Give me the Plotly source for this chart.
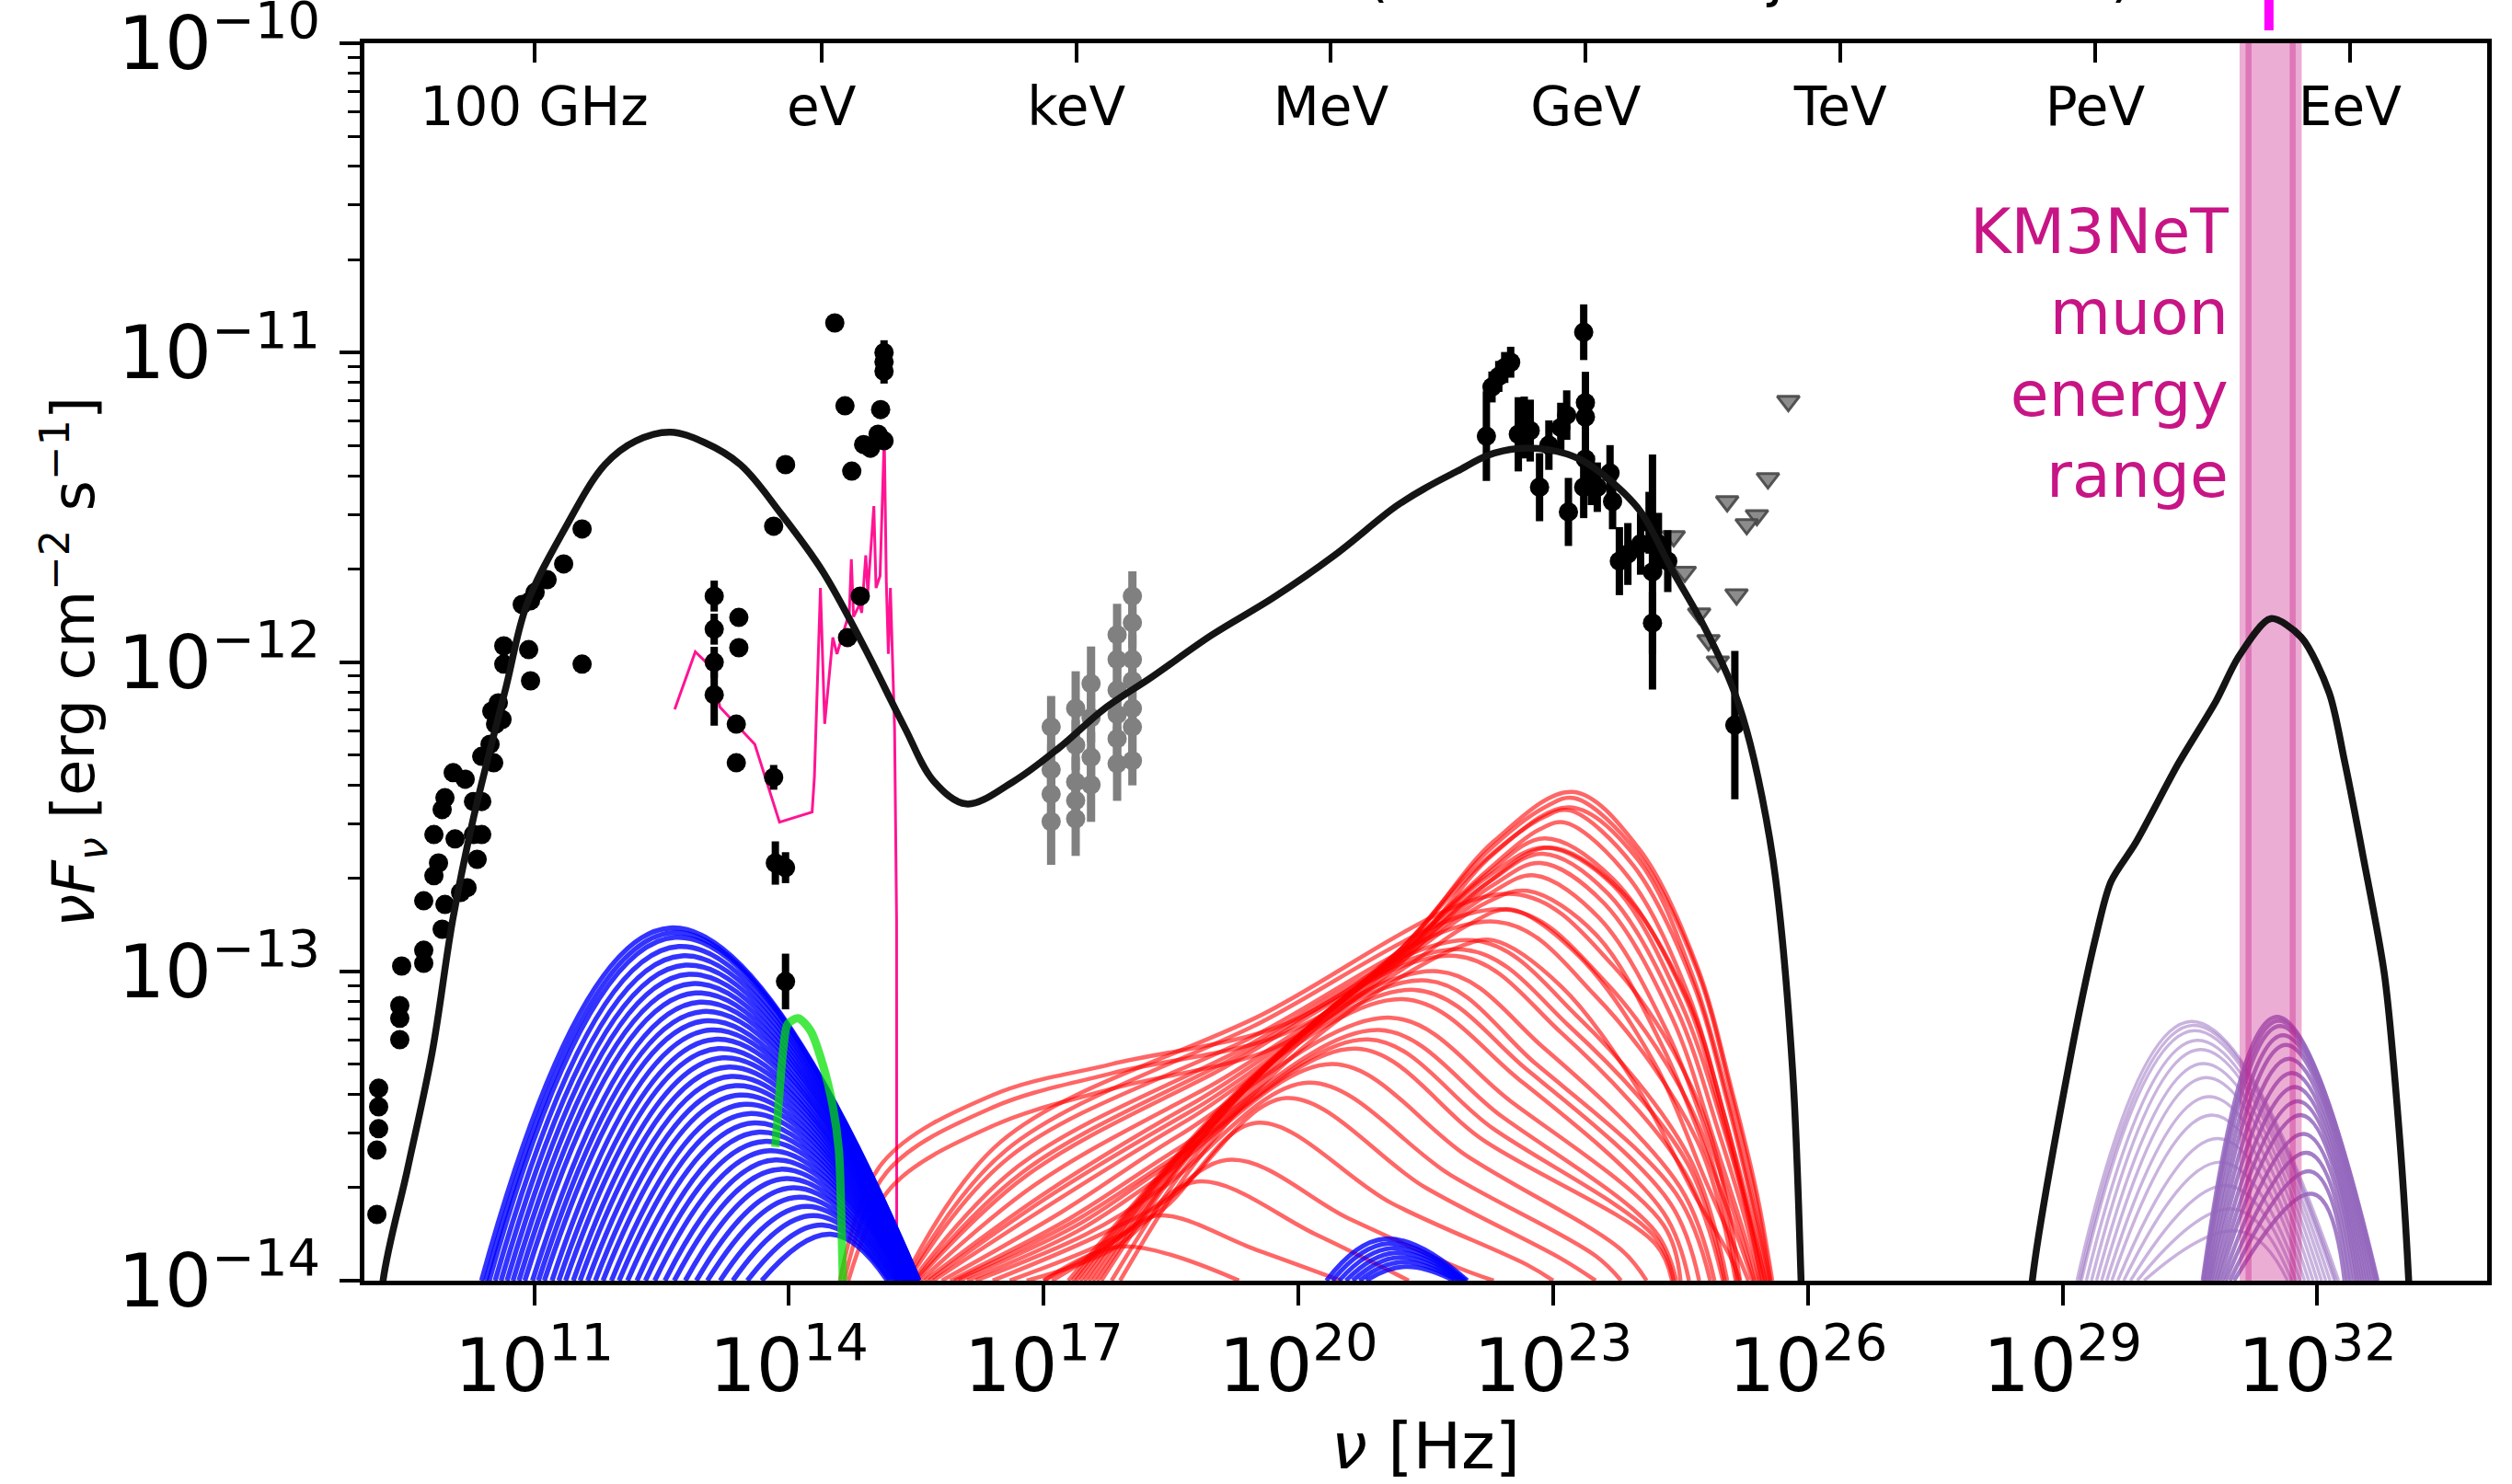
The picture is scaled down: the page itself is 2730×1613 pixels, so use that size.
import numpy as np
import plotly.graph_objects as go

# ------------------------------------------------------------------
# Values (log10 of nu [Hz] and nuFnu [erg/cm2/s])
# ------------------------------------------------------------------
energy_hz = [1e11, 2.418e14, 2.418e17, 2.418e20, 2.418e23, 2.418e26, 2.418e29, 2.418e32]
energy_labels = ["100 GHz", "eV", "keV", "MeV", "GeV", "TeV", "PeV", "EeV"]

# total model, first component (synchrotron + IC)
model1_logx = [9.15, 9.22, 9.51, 9.80, 10.04, 10.285, 10.67, 10.913, 11.347, 11.832, 12.2, 12.604, 13.0,
               13.428, 13.913, 14.397, 14.88, 15.365, 15.704, 16.09, 16.636, 17.18, 17.72, 18.262, 18.985,
               19.70, 20.43, 21.153, 21.514, 21.872, 22.23, 22.59, 22.95, 23.31, 23.67, 24.03, 24.39,
               24.745, 25.10, 25.28, 25.46, 25.62, 25.82, 25.92, 25.96]
model1_logy = [-14.3, -14.0, -13.637, -13.26, -12.834, -12.504, -12.079, -11.814, -11.576, -11.362, -11.285,
               -11.257, -11.29, -11.362, -11.523, -11.707, -11.948, -12.213, -12.385, -12.459, -12.388, -12.278,
               -12.15, -12.051, -11.912, -11.793, -11.654, -11.496, -11.435, -11.383, -11.332, -11.31,
               -11.314, -11.344, -11.413, -11.514, -11.697, -11.868, -12.073, -12.222, -12.436, -12.70,
               -13.32, -14.0, -14.4]
# total model, neutrino component
model2_logx = [28.60, 28.635, 29.07, 29.39, 29.57, 29.86, 30.366, 30.80, 31.08, 31.45, 31.81, 32.14,
               32.32, 32.54, 32.79, 32.97, 33.08, 33.12]
model2_logy = [-14.3, -14.02, -13.31, -12.89, -12.71, -12.585, -12.327, -12.13, -11.98, -11.86, -11.92,
               -12.10, -12.32, -12.63, -13.01, -13.54, -14.02, -14.3]

# radio / mm / IR data (black)
radio_logx = [9.147, 9.147, 9.168, 9.168, 9.168, 9.417, 9.417, 9.417, 9.439, 9.699, 9.699, 9.916, 9.699,
              9.949, 9.819, 9.873, 9.819, 10.068, 10.133, 10.209, 10.328, 10.285, 10.382, 9.949, 9.916,
              10.046, 10.187, 10.285, 10.382, 10.523, 10.382, 10.480, 10.545, 10.621, 10.501, 10.577,
              10.642, 10.642, 10.859, 10.957, 11.011, 11.152, 11.347, 11.564, 11.564, 10.935, 10.957]
radio_logy = [-13.786, -13.578, -13.509, -13.438, -13.378, -13.221, -13.152, -13.111, -12.983, -12.974,
              -12.932, -12.864, -12.772, -12.784, -12.691, -12.650, -12.558, -12.572, -12.745, -12.730,
              -12.638, -12.558, -12.558, -12.439, -12.477, -12.358, -12.379, -12.451, -12.451, -12.326,
              -12.305, -12.266, -12.201, -12.186, -12.159, -12.132, -11.948, -12.007, -11.814, -11.802,
              -11.775, -11.734, -11.683, -11.570, -12.007, -11.960, -12.061]

# IR / optical / UV data (black, with errors in dex)
opt_logx = [13.12, 13.12, 13.12, 13.12, 13.41, 13.41, 13.38, 13.38, 13.82, 13.96, 13.82, 13.84, 13.96,
            13.96, 14.54, 14.66, 14.74, 15.08, 15.12, 15.12, 15.12, 14.88, 14.96, 15.05, 15.12, 14.84, 14.69]
opt_logy = [-11.787, -11.894, -12.001, -12.106, -11.856, -11.954, -12.201, -12.326, -11.561, -11.362,
            -12.373, -12.650, -12.665, -13.033, -10.904, -11.172, -11.383, -11.184, -11.0, -11.03, -11.06,
            -11.297, -11.309, -11.264, -11.285, -11.787, -11.921]
opt_err = [0.05, 0.05, 0.05, 0.10, 0.0, 0.0, 0.0, 0.0, 0.0, 0.0, 0.04, 0.07, 0.05, 0.09, 0.0, 0.0, 0.0,
           0.0, 0.04, 0.04, 0.04, 0.0, 0.0, 0.0, 0.0, 0.02, 0.0]

# X-ray data (grey)
xray_logx = [17.088, 17.088, 17.088, 17.088, 17.377, 17.377, 17.377, 17.377, 17.377, 17.558, 17.558,
             17.558, 17.558, 17.865, 17.865, 17.865, 17.865, 17.865, 17.865, 18.045, 18.045, 18.045,
             18.045, 18.045, 18.045, 18.045]
xray_logy = [-12.210, -12.348, -12.427, -12.516, -12.150, -12.269, -12.388, -12.448, -12.507, -12.070,
             -12.180, -12.308, -12.397, -11.912, -11.992, -12.091, -12.170, -12.248, -12.329, -11.787,
             -11.873, -11.992, -12.061, -12.150, -12.210, -12.319]
xray_err = [0.10, 0.08, 0.08, 0.14, 0.12, 0.08, 0.08, 0.08, 0.12, 0.12, 0.08, 0.08, 0.12, 0.10, 0.08,
            0.08, 0.08, 0.08, 0.12, 0.08, 0.08, 0.08, 0.08, 0.08, 0.08, 0.08]

# gamma-ray data (black)
gam_logx = [22.214, 22.28, 22.36, 22.43, 22.50, 22.59, 22.66, 22.73, 22.84, 22.95, 23.09, 23.16, 23.18,
            23.36, 23.38, 23.38, 23.38, 23.36, 23.45, 23.52, 23.67, 23.70, 23.78, 23.88, 24.03, 24.13,
            24.17, 24.17, 24.24, 24.35, 25.14]
gam_logy = [-11.270, -11.111, -11.077, -11.048, -11.031, -11.264, -11.242, -11.252, -11.435, -11.299,
            -11.242, -11.202, -11.515, -10.934, -11.162, -11.208, -11.344, -11.435, -11.413, -11.435,
            -11.389, -11.481, -11.674, -11.651, -11.618, -11.550, -11.709, -11.874, -11.618, -11.674,
            -12.204]
gam_err = [0.145, 0.05, 0.05, 0.05, 0.05, 0.12, 0.10, 0.10, 0.11, 0.08, 0.08, 0.08, 0.11, 0.09, 0.10,
           0.10, 0.10, 0.10, 0.08, 0.08, 0.09, 0.09, 0.11, 0.10, 0.10, 0.10, 0.38, 0.10, 0.10, 0.10, 0.24]

# VHE upper limits (grey triangles)
ul_logx = [25.77, 25.53, 25.05, 25.40, 25.28, 24.42, 24.55, 25.16, 24.72, 24.83, 24.94]
ul_logy = [-11.157, -11.407, -11.481, -11.526, -11.555, -11.594, -11.709, -11.782, -11.844, -11.930, -11.999]

# optical spectrum (pink)
spec_logx = [12.655, 12.897, 13.091, 13.187, 13.598, 13.889, 14.273, 14.300, 14.371, 14.421, 14.517,
             14.566, 14.639, 14.711, 14.735, 14.761, 14.833, 14.857, 14.905, 14.929, 15.000, 15.026,
             15.073, 15.123, 15.147, 15.171, 15.195, 15.217, 15.244, 15.268, 15.27]
spec_logy = [-12.153, -11.967, -12.019, -12.146, -12.266, -12.518, -12.485, -12.372, -11.761, -12.200,
             -11.921, -11.974, -11.906, -11.841, -11.668, -11.854, -11.814, -11.841, -11.655, -11.775,
             -11.496, -11.761, -11.722, -11.270, -11.742, -11.974, -11.761, -11.974, -12.213, -12.834,
             -14.6]

# green curve
green_logx = [13.840, 13.865, 13.937, 13.985, 14.106, 14.252, 14.397, 14.518, 14.588, 14.615, 14.64]
green_logy = [-13.568, -13.479, -13.241, -13.171, -13.152, -13.191, -13.300, -13.438, -13.578, -13.776, -14.05]

# blue (synchrotron) family: left foot, peak, right foot
blue_left = [10.38, 10.43, 10.47, 10.54, 10.61, 10.68, 10.75, 10.82, 10.89, 10.98, 11.05, 11.12, 11.21, 11.29,
             11.37, 11.46, 11.54, 11.63, 11.72, 11.81, 11.91, 12.00, 12.10, 12.21, 12.31, 12.42, 12.54,
             12.65, 12.78, 12.91, 13.04, 13.19, 13.34, 13.51, 13.68]
blue_peak_x = [12.60, 12.63, 12.66, 12.70, 12.74, 12.78, 12.82, 12.86, 12.90, 12.95, 12.99, 13.03, 13.08, 13.13,
               13.17, 13.22, 13.27, 13.32, 13.37, 13.42, 13.48, 13.53, 13.59, 13.65, 13.71, 13.77, 13.84,
               13.90, 13.97, 14.05, 14.12, 14.21, 14.29, 14.39, 14.49]
blue_peak_y = [-12.86, -12.875, -12.89, -12.92, -12.95, -12.98, -13.01, -13.04, -13.07, -13.10, -13.13, -13.16,
               -13.19, -13.22, -13.25, -13.28, -13.31, -13.34, -13.37, -13.40, -13.43, -13.46, -13.49,
               -13.52, -13.55, -13.58, -13.61, -13.64, -13.67, -13.70, -13.73, -13.76, -13.79, -13.82, -13.85]
blue_right = [15.53, 15.53, 15.53, 15.52, 15.52, 15.51, 15.51, 15.50, 15.50, 15.49, 15.49, 15.48, 15.48, 15.47,
              15.46, 15.46, 15.45, 15.44, 15.43, 15.42, 15.41, 15.40, 15.39, 15.38, 15.37, 15.36, 15.35,
              15.33, 15.31, 15.29, 15.27, 15.25, 15.22, 15.19, 15.16]

# small blue bump near 1e21 Hz
blue2_left = [20.33, 20.40, 20.48, 20.56, 20.64, 20.72, 20.80]
blue2_peak_x = [21.02, 21.06, 21.10, 21.14, 21.18, 21.22, 21.26]
blue2_peak_y = [-13.865, -13.88, -13.895, -13.91, -13.925, -13.94, -13.955]
blue2_right = [21.99, 21.97, 21.95, 21.93, 21.90, 21.87, 21.83]

# red (inverse Compton) family, each curve as (log nu, log nuFnu) nodes
red_curves = [
    [(14.6, -14.0), (15.1, -13.62), (16.4, -13.40), (17.8, -13.30), (19.85, -13.17), (21.2, -12.93), (22.3, -12.58), (23.23, -12.42), (24.0, -12.60), (24.69, -12.98), (25.1, -13.38), (25.4, -13.72), (25.58, -14.0)],
    [(14.65, -14.0), (15.15, -13.65), (16.4, -13.44), (17.8, -13.33), (19.85, -13.20), (21.2, -12.96), (22.3, -12.62), (23.2, -12.47), (24.0, -12.64), (24.65, -13.02), (25.05, -13.40), (25.35, -13.74), (25.55, -14.0)],
    [(14.7, -14.0), (15.2, -13.70), (16.4, -13.50), (17.8, -13.38), (19.7, -13.25), (21.0, -13.02), (22.2, -12.72), (22.95, -12.60), (23.8, -12.74), (24.6, -13.10), (25.0, -13.45), (25.3, -13.76), (25.5, -14.0)],
    [(17.29, -14.0), (18.1, -13.74), (19.16, -13.42), (20.2, -13.16), (21.2, -12.93), (22.2, -12.62), (22.9, -12.47), (23.25, -12.44), (24.0, -12.62), (24.7, -13.0), (25.1, -13.4), (25.4, -13.75), (25.56, -14.0)],
    [(17.34, -14.0), (18.15, -13.73), (19.19, -13.42), (20.22, -13.16), (21.2, -12.93), (22.2, -12.64), (22.9, -12.50), (23.2, -12.48), (23.95, -12.66), (24.65, -13.04), (25.05, -13.42), (25.35, -13.76), (25.53, -14.0)],
    [(17.38, -14.0), (18.2, -13.72), (19.22, -13.41), (20.25, -13.15), (21.2, -12.94), (22.2, -12.68), (22.85, -12.54), (23.15, -12.52), (23.9, -12.70), (24.6, -13.08), (25.0, -13.45), (25.3, -13.78), (25.5, -14.0)],
    [(17.43, -14.0), (18.25, -13.71), (19.26, -13.40), (20.28, -13.15), (21.22, -12.94), (22.2, -12.69), (22.9, -12.57), (23.7, -12.70), (24.55, -13.08), (25.0, -13.48), (25.3, -13.79), (25.47, -14.0)],
    [(17.48, -14.0), (18.3, -13.70), (19.3, -13.40), (20.3, -13.14), (21.25, -12.93), (22.2, -12.70), (22.9, -12.60), (23.7, -12.72), (24.5, -13.10), (25.0, -13.50), (25.3, -13.8), (25.45, -14.0)],
    [(17.53, -14.0), (18.35, -13.69), (19.33, -13.39), (20.33, -13.14), (21.28, -12.93), (22.25, -12.71), (22.88, -12.62), (23.65, -12.75), (24.45, -13.12), (24.95, -13.52), (25.28, -13.82), (25.43, -14.0)],
    [(17.58, -14.0), (18.4, -13.69), (19.35, -13.39), (20.35, -13.13), (21.3, -12.93), (22.3, -12.72), (22.85, -12.65), (23.6, -12.78), (24.4, -13.15), (24.9, -13.55), (25.25, -13.85), (25.4, -14.0)],
    [(17.63, -14.0), (18.45, -13.68), (19.38, -13.38), (20.38, -13.12), (21.3, -12.94), (22.25, -12.75), (22.78, -12.69), (23.55, -12.83), (24.35, -13.2), (24.88, -13.58), (25.22, -13.86), (25.37, -14.0)],
    [(17.68, -14.0), (18.5, -13.67), (19.4, -13.38), (20.4, -13.12), (21.3, -12.95), (22.2, -12.78), (22.7, -12.74), (23.5, -12.88), (24.3, -13.25), (24.85, -13.62), (25.2, -13.88), (25.35, -14.0)],
    [(17.8, -14.0), (18.6, -13.66), (19.5, -13.37), (20.4, -13.14), (21.3, -12.98), (22.0, -12.85), (22.5, -12.80), (23.3, -12.95), (24.2, -13.3), (24.8, -13.68), (25.15, -13.9), (25.3, -14.0)],
    [(17.9, -14.0), (18.7, -13.65), (19.6, -13.36), (20.5, -13.15), (21.2, -13.02), (21.9, -12.92), (22.3, -12.90), (23.1, -13.05), (24.0, -13.38), (24.7, -13.74), (25.1, -13.93), (25.2, -14.0)],
    [(15.35, -14.0), (16.5, -13.55), (19.5, -13.15), (22.54, -12.75), (23.7, -12.98), (24.75, -13.45), (25.2, -14.0)],
    [(15.38, -14.0), (16.55, -13.58), (19.45, -13.18), (22.44, -12.80), (23.6, -13.03), (24.72, -13.50), (25.17, -14.0)],
    [(15.4, -14.0), (16.6, -13.60), (19.4, -13.22), (22.34, -12.84), (23.5, -13.08), (24.7, -13.55), (25.15, -14.0)],
    [(15.45, -14.0), (16.7, -13.63), (19.2, -13.27), (22.06, -12.90), (23.3, -13.15), (24.6, -13.60), (25.05, -14.0)],
    [(15.48, -14.0), (16.75, -13.65), (19.1, -13.30), (21.95, -12.93), (23.2, -13.18), (24.58, -13.62), (25.02, -14.0)],
    [(15.5, -14.0), (16.8, -13.66), (19.0, -13.33), (21.85, -12.95), (23.1, -13.20), (24.55, -13.65), (25.0, -14.0)],
    [(15.55, -14.0), (16.9, -13.69), (18.9, -13.38), (21.64, -13.00), (22.9, -13.25), (24.5, -13.70), (24.9, -14.0)],
    [(15.6, -14.0), (17.0, -13.72), (18.8, -13.42), (21.51, -13.03), (22.8, -13.30), (24.45, -13.72), (24.85, -14.0)],
    [(15.65, -14.0), (17.05, -13.73), (18.75, -13.45), (21.37, -13.06), (22.7, -13.32), (24.38, -13.75), (24.72, -14.0)],
    [(15.7, -14.0), (17.1, -13.75), (18.7, -13.48), (21.23, -13.09), (22.6, -13.35), (24.3, -13.78), (24.6, -14.0)],
    [(15.8, -14.0), (17.2, -13.78), (18.6, -13.53), (21.09, -13.15), (22.5, -13.42), (24.3, -13.82), (24.5, -14.0)],
    [(15.9, -14.0), (17.3, -13.80), (18.6, -13.57), (20.95, -13.19), (22.4, -13.47), (24.2, -13.84), (24.45, -14.0)],
    [(15.95, -14.0), (17.35, -13.81), (18.55, -13.60), (20.82, -13.22), (22.3, -13.51), (24.2, -13.86), (24.42, -14.0)],
    [(16.0, -14.0), (17.4, -13.82), (18.5, -13.62), (20.68, -13.25), (22.2, -13.55), (24.2, -13.88), (24.4, -14.0)],
    [(16.1, -14.0), (17.4, -13.84), (18.4, -13.66), (20.40, -13.30), (22.0, -13.60), (23.8, -13.90), (24.1, -14.0)],
    [(16.2, -14.0), (17.5, -13.85), (18.4, -13.70), (20.12, -13.36), (21.8, -13.66), (23.5, -13.92), (23.8, -14.0)],
    [(16.4, -14.0), (17.6, -13.86), (18.5, -13.73), (19.85, -13.41), (21.5, -13.70), (23.1, -13.93), (23.5, -14.0)],
    [(16.6, -14.0), (17.7, -13.88), (18.4, -13.77), (19.50, -13.49), (21.1, -13.75), (22.7, -13.95), (23.0, -14.0)],
    [(16.8, -14.0), (17.8, -13.90), (19.16, -13.61), (20.6, -13.80), (21.9, -13.96), (22.3, -14.0)],
    [(17.0, -14.0), (17.9, -13.86), (18.81, -13.68), (20.2, -13.85), (21.3, -14.0)],
    [(17.1, -14.0), (17.7, -13.90), (18.33, -13.79), (19.5, -13.90), (20.5, -14.0)],
    [(17.0, -14.0), (17.91, -13.89), (19.3, -14.0)],
]

# purple (neutrino) families: left foot, peak, right foot
purple_light_left = [29.17, 29.20, 29.22, 29.28, 29.34, 29.40, 29.46, 29.52, 29.58, 29.65, 29.72, 29.80, 29.88, 29.96]
purple_light_peak_x = [30.51, 30.53, 30.546, 30.582, 30.618, 30.654, 30.69, 30.726, 30.762, 30.835, 30.871, 30.943, 31.015, 31.08]
purple_light_peak_y = [-13.162, -13.175, -13.192, -13.223, -13.253, -13.298, -13.344, -13.405, -13.465, -13.541, -13.617, -13.693, -13.769, -13.84]
purple_light_right = [32.25, 32.22, 32.20, 32.15, 32.10, 32.05, 32.00, 31.95, 31.90, 31.85, 31.80, 31.75, 31.70, 31.65]

purple_dark_left = [30.65, 30.66, 30.67, 30.69, 30.71, 30.73, 30.75, 30.78, 30.81, 30.84, 30.88, 30.92, 30.97, 31.02]
purple_dark_peak_x = [31.52, 31.54, 31.558, 31.594, 31.63, 31.666, 31.702, 31.738, 31.774, 31.81, 31.846, 31.882, 31.918, 31.95]
purple_dark_peak_y = [-13.147, -13.16, -13.177, -13.207, -13.238, -13.283, -13.329, -13.374, -13.42, -13.465, -13.526, -13.587, -13.647, -13.72]
purple_dark_right = [32.71, 32.70, 32.68, 32.65, 32.62, 32.59, 32.56, 32.53, 32.50, 32.47, 32.44, 32.40, 32.36, 32.32]

# KM3NeT muon energy range band (log10 nu)
km3_band_logx = [31.155, 31.745]
km3_event_logx = 31.43

FLOOR = -14.0


def p10(a):
    return np.power(10.0, np.asarray(a, dtype=float))


def err_up(logy, dex):
    return p10(logy) * (p10(dex) - 1.0)


def err_dn(logy, dex):
    return p10(logy) * (1.0 - p10(-np.asarray(dex, dtype=float)))


fig = go.Figure()

# optical spectrum
fig.add_trace(go.Scatter(x=p10(spec_logx), y=p10(spec_logy), mode="lines",
                         line=dict(color="#FF1493", width=3), hoverinfo="skip"))

# red family
for c in red_curves:
    fig.add_trace(go.Scatter(x=p10([p[0] for p in c]), y=p10([p[1] for p in c]), mode="lines",
                             line=dict(color="rgba(255,0,0,0.6)", width=4.5, shape="spline", smoothing=1.0),
                             hoverinfo="skip"))

# blue families
for xl, xp, yp, xr in zip(blue_left, blue_peak_x, blue_peak_y, blue_right):
    fig.add_trace(go.Scatter(x=p10([xl, xp, xr]), y=p10([FLOOR, yp, FLOOR]), mode="lines",
                             line=dict(color="rgba(0,0,255,0.8)", width=5.5, shape="spline", smoothing=1.3),
                             hoverinfo="skip"))
for xl, xp, yp, xr in zip(blue2_left, blue2_peak_x, blue2_peak_y, blue2_right):
    fig.add_trace(go.Scatter(x=p10([xl, xp, xr]), y=p10([FLOOR, yp, FLOOR]), mode="lines",
                             line=dict(color="rgba(0,0,255,0.8)", width=5, shape="spline", smoothing=1.3),
                             hoverinfo="skip"))

# purple families
for xl, xp, yp, xr in zip(purple_light_left, purple_light_peak_x, purple_light_peak_y, purple_light_right):
    fig.add_trace(go.Scatter(x=p10([xl, xp, xr]), y=p10([FLOOR, yp, FLOOR]), mode="lines",
                             line=dict(color="rgba(148,103,189,0.5)", width=3.5, shape="spline", smoothing=1.3),
                             hoverinfo="skip"))
for xl, xp, yp, xr in zip(purple_dark_left, purple_dark_peak_x, purple_dark_peak_y, purple_dark_right):
    fig.add_trace(go.Scatter(x=p10([xl, xp, xr]), y=p10([FLOOR, yp, FLOOR]), mode="lines",
                             line=dict(color="rgba(148,103,189,0.85)", width=4.5, shape="spline", smoothing=1.3),
                             hoverinfo="skip"))

# KM3NeT band (fill + edge drawn with the same translucent colour)
bx = p10([km3_band_logx[0], km3_band_logx[0], km3_band_logx[1], km3_band_logx[1], km3_band_logx[0]])
by = [1e-16, 1e-8, 1e-8, 1e-16, 1e-16]
fig.add_trace(go.Scatter(x=bx, y=by, mode="lines", fill="toself",
                         fillcolor="rgba(199,21,133,0.35)",
                         line=dict(color="rgba(199,21,133,0.35)", width=13), hoverinfo="skip"))

# green curve
fig.add_trace(go.Scatter(x=p10(green_logx), y=p10(green_logy), mode="lines",
                         line=dict(color="rgba(0,225,0,0.72)", width=9, shape="spline", smoothing=0.8),
                         hoverinfo="skip"))

# data points
fig.add_trace(go.Scatter(x=p10(radio_logx), y=p10(radio_logy), mode="markers",
                         marker=dict(color="black", size=21), hoverinfo="skip"))
fig.add_trace(go.Scatter(x=p10(opt_logx), y=p10(opt_logy), mode="markers",
                         marker=dict(color="black", size=21),
                         error_y=dict(type="data", symmetric=False, array=err_up(opt_logy, opt_err),
                                      arrayminus=err_dn(opt_logy, opt_err), color="black", thickness=8, width=0),
                         hoverinfo="skip"))
fig.add_trace(go.Scatter(x=p10(xray_logx), y=p10(xray_logy), mode="markers",
                         marker=dict(color="#808080", size=21),
                         error_y=dict(type="data", symmetric=False, array=err_up(xray_logy, xray_err),
                                      arrayminus=err_dn(xray_logy, xray_err), color="#808080", thickness=9, width=0),
                         hoverinfo="skip"))
fig.add_trace(go.Scatter(x=p10(ul_logx), y=p10(ul_logy), mode="markers",
                         marker=dict(symbol="triangle-down", color="rgba(120,120,120,0.85)", size=21,
                                     line=dict(color="rgba(70,70,70,0.9)", width=3)),
                         hoverinfo="skip"))
fig.add_trace(go.Scatter(x=p10(gam_logx), y=p10(gam_logy), mode="markers",
                         marker=dict(color="black", size=21),
                         error_y=dict(type="data", symmetric=False, array=err_up(gam_logy, gam_err),
                                      arrayminus=err_dn(gam_logy, gam_err), color="black", thickness=8, width=0),
                         hoverinfo="skip"))

# total model
fig.add_trace(go.Scatter(x=p10(model1_logx), y=p10(model1_logy), mode="lines",
                         line=dict(color="rgba(20,20,20,1)", width=7.5, shape="spline", smoothing=1.0),
                         hoverinfo="skip"))
fig.add_trace(go.Scatter(x=p10(model2_logx), y=p10(model2_logy), mode="lines",
                         line=dict(color="rgba(20,20,20,1)", width=7.5, shape="spline", smoothing=0.8),
                         hoverinfo="skip"))

# invisible traces so that the energy axes are drawn
fig.add_trace(go.Scatter(x=[1e20], y=[1e-12], xaxis="x2", mode="markers",
                         marker=dict(opacity=0), hoverinfo="skip"))
fig.add_trace(go.Scatter(x=[1e20], y=[1e-12], xaxis="x3", mode="markers",
                         marker=dict(opacity=0), hoverinfo="skip"))

FONT = "DejaVu Sans"
fig.update_layout(
    width=2730, height=1613, autosize=False,
    margin=dict(l=396, r=27, t=47, b=221, pad=0, autoexpand=False),
    paper_bgcolor="white", plot_bgcolor="white",
    showlegend=False,
    font=dict(family=FONT, size=64, color="black"),
    xaxis=dict(type="log", range=[9, 34], dtick=3, tick0=11, exponentformat="power", showexponent="all",
               ticks="outside", ticklen=22, tickwidth=4, tickcolor="black", automargin=False,
               showline=True, linewidth=5, linecolor="black", mirror=True,
               showgrid=False, zeroline=False, tickfont=dict(size=64, family=FONT, color="black"),
               title=dict(text="<i>ν</i> [Hz]", font=dict(size=70, family=FONT, color="black"), standoff=25)),
    # energy axis: tick marks hanging from the top frame
    xaxis2=dict(type="log", range=[9, 34], overlaying="x", side="top", anchor="y", automargin=False,
                tickmode="array", tickvals=energy_hz, showticklabels=False,
                ticks="inside", ticklen=21, tickwidth=4, tickcolor="black",
                showgrid=False, showline=False, zeroline=False),
    # energy axis: labels just below the tick marks
    xaxis3=dict(type="log", range=[9, 34], overlaying="x", side="top", anchor="free", position=0.925,
                automargin=False, tickmode="array", tickvals=energy_hz, ticktext=energy_labels,
                ticks="", showticklabels=True, tickfont=dict(size=58, family=FONT, color="black"),
                showgrid=False, showline=False, zeroline=False),
    yaxis=dict(type="log", range=[-14.0002, -9.9998], dtick=1, exponentformat="power", showexponent="all",
               ticks="outside", ticklen=22, tickwidth=4, tickcolor="black",
               ticklabeloverflow="allow", automargin=False,
               minor=dict(dtick="D1", ticks="outside", ticklen=13, tickwidth=3, tickcolor="black", showgrid=False),
               showline=True, linewidth=5, linecolor="black", mirror=True,
               showgrid=False, zeroline=False, tickfont=dict(size=64, family=FONT, color="black"),
               ticklabelstandoff=8,
               title=dict(text="<i>νF</i><sub><i>ν</i></sub> [erg cm<sup>−2</sup> s<sup>−1</sup>]",
                          font=dict(size=64, family=FONT, color="black"), standoff=6)),
)

# KM3NeT label
fig.add_annotation(text="KM3NeT<br>muon<br>energy<br>range", xref="paper", yref="paper",
                   x=0.879, y=0.879, xanchor="right", yanchor="top", align="right", showarrow=False,
                   font=dict(size=68, family=FONT, color="#C71585"))

# remnants of the title text cut by the top edge
for txt, xp in [("(", 0.477), ("j", 0.6645), (")", 0.828)]:
    fig.add_annotation(text=txt, xref="paper", yref="paper", x=xp, y=1.026, xanchor="center",
                       yanchor="bottom", showarrow=False, font=dict(size=64, family=FONT, color="black"))

# magenta marker line above the frame
xpaper = (km3_event_logx - 9.0) / 25.0
fig.add_shape(type="line", xref="paper", yref="paper", x0=xpaper, x1=xpaper, y0=1.0104, y1=1.06,
              line=dict(color="#FF00FF", width=10))

fig.write_html("out.html", config={"displayModeBar": False},
               post_script="document.body.style.margin='0px';")
